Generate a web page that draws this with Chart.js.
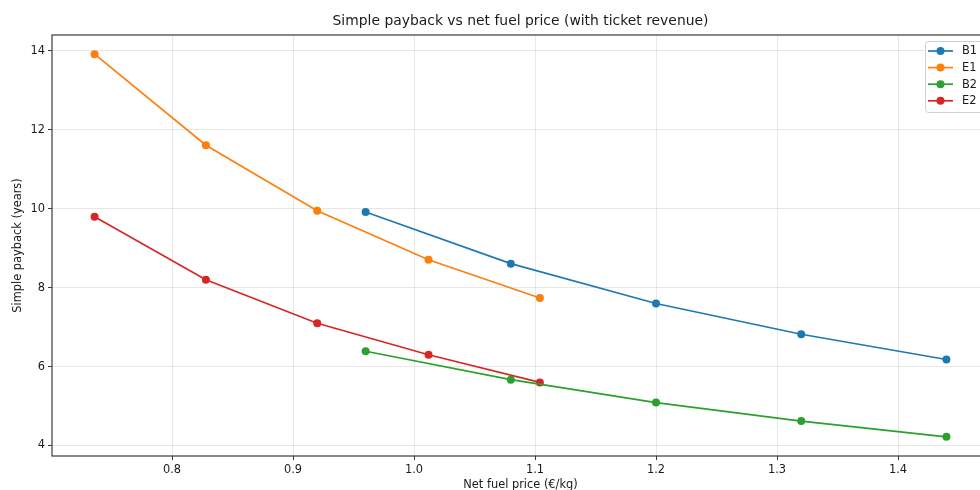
<!DOCTYPE html>
<html>
<head>
<meta charset="utf-8">
<script src="https://cdn.jsdelivr.net/npm/chart.js@4/dist/chart.umd.min.js"></script>
<style>
html,body{margin:0;padding:0;background:#fff;overflow:hidden;width:980px;height:490px;}
#wrap{position:relative;width:1010px;height:490px;}
canvas{display:block;}
</style>
</head>
<body>
<div id="wrap"><canvas id="c" width="1010" height="490"></canvas></div>
<script>
// ---- data ----
const seriesLabels = ['B1', 'E1', 'B2', 'E2'];
const seriesColors = ['#1f77b4', '#ff7f0e', '#2ca02c', '#d62728'];
const priceB = [0.96, 1.08, 1.20, 1.32, 1.44];
const priceE = [0.736, 0.828, 0.920, 1.012, 1.104];
const paybackB1 = [9.92, 8.61, 7.60, 6.82, 6.18];
const paybackE1 = [13.92, 11.61, 9.95, 8.71, 7.74];
const paybackB2 = [6.39, 5.67, 5.09, 4.62, 4.22];
const paybackE2 = [9.80, 8.20, 7.10, 6.30, 5.60];
const xTicks = [0.8, 0.9, 1.0, 1.1, 1.2, 1.3, 1.4];
const yTicks = [4, 6, 8, 10, 12, 14];
const titleText = 'Simple payback vs net fuel price (with ticket revenue)';
const xLabel = 'Net fuel price (€/kg)';
const yLabel = 'Simple payback (years)';

const xs = [priceB, priceE, priceB, priceE];
const ys = [paybackB1, paybackE1, paybackB2, paybackE2];

const datasets = seriesLabels.map((lab, i) => ({
  label: lab,
  data: xs[i].map((x, j) => ({x: x, y: ys[i][j]})),
  borderColor: seriesColors[i],
  backgroundColor: seriesColors[i],
  showLine: true,
  borderWidth: 1.7,
  pointRadius: 4,
  pointHoverRadius: 4,
  pointBorderWidth: 0,
  tension: 0
}));

const FONT = 'DejaVu Sans';

const framePlugin = {
  id: 'frame',
  afterDraw(chart) {
    const ctx = chart.ctx;
    const a = chart.chartArea;
    ctx.save();
    ctx.strokeStyle = '#3a3a3a';
    ctx.lineWidth = 1.2;
    ctx.strokeRect(a.left, a.top, a.right - a.left, a.bottom - a.top);
    ctx.fillStyle = '#1a1a1a';
    ctx.font = '13.9px "' + FONT + '"';
    ctx.textAlign = 'center';
    ctx.textBaseline = 'middle';
    ctx.fillText(titleText, (a.left + a.right) / 2, 21);
    ctx.font = '11.4px "' + FONT + '"';
    ctx.fillText(xLabel, (a.left + a.right) / 2, 485);
    ctx.save();
    ctx.translate(18, (a.top + a.bottom) / 2);
    ctx.rotate(-Math.PI / 2);
    ctx.fillText(yLabel, 0, 0);
    ctx.restore();
    // legend
    const lx = 925, ly = 41, lw = 59, lh = 71;
    ctx.fillStyle = 'rgba(255,255,255,0.85)';
    ctx.strokeStyle = '#d0d0d0';
    ctx.lineWidth = 1;
    ctx.beginPath();
    if (ctx.roundRect) ctx.roundRect(lx + 0.5, ly + 0.5, lw, lh, 3); else ctx.rect(lx + 0.5, ly + 0.5, lw, lh);
    ctx.fill();
    ctx.stroke();
    chart.data.datasets.forEach((ds, i) => {
      const yy = 51 + i * 16.6;
      ctx.strokeStyle = ds.borderColor;
      ctx.lineWidth = 1.7;
      ctx.beginPath();
      ctx.moveTo(928, yy);
      ctx.lineTo(953, yy);
      ctx.stroke();
      ctx.fillStyle = ds.backgroundColor;
      ctx.beginPath();
      ctx.arc(940.5, yy, 4, 0, Math.PI * 2);
      ctx.fill();
      ctx.fillStyle = '#1a1a1a';
      ctx.font = '11.4px "' + FONT + '"';
      ctx.textAlign = 'left';
      ctx.textBaseline = 'middle';
      ctx.fillText(ds.label, 962, yy + 0.5);
    });
    ctx.restore();
  }
};

new Chart(document.getElementById('c'), {
  type: 'scatter',
  data: {datasets: datasets},
  options: {
    responsive: false,
    animation: false,
    events: [],
    layout: {padding: {left: 0, top: 35, right: 21, bottom: 0}},
    plugins: {legend: {display: false}, title: {display: false}, tooltip: {enabled: false}},
    scales: {
      x: {
        type: 'linear',
        min: 0.7008,
        max: 1.4752,
        afterBuildTicks(s) { s.ticks = xTicks.map(v => ({value: v})); },
        afterFit(s) { s.height = 34; },
        grid: {color: 'rgba(176,176,176,0.3)', lineWidth: 1, tickLength: 4, tickColor: '#3a3a3a', drawTicks: true},
        border: {display: false},
        ticks: {
          autoSkip: false, maxRotation: 0, padding: 3,
          color: '#1a1a1a', font: {family: FONT, size: 11.4},
          callback: v => Number(v).toFixed(1)
        }
      },
      y: {
        type: 'linear',
        min: 3.735,
        max: 14.405,
        afterBuildTicks(s) { s.ticks = yTicks.map(v => ({value: v})); },
        afterFit(s) { s.width = 52; },
        grid: {color: 'rgba(176,176,176,0.3)', lineWidth: 1, tickLength: 4, tickColor: '#3a3a3a', drawTicks: true},
        border: {display: false},
        ticks: {
          autoSkip: false, padding: 3,
          color: '#1a1a1a', font: {family: FONT, size: 11.4},
          callback: v => String(Math.round(v))
        }
      }
    }
  },
  plugins: [framePlugin]
});
</script>
</body>
</html>
